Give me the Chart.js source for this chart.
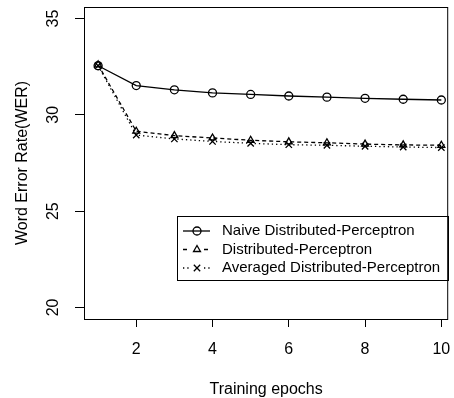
<!DOCTYPE html>
<html>
<head>
<meta charset="utf-8">
<script src="https://cdn.jsdelivr.net/npm/chart.js@4/dist/chart.umd.min.js"></script>
<style>
  body { margin: 0; background: #fff; }
  #wrap { width: 454px; height: 398px; }
</style>
</head>
<body>
<div id="wrap"><canvas id="werChart"></canvas></div>
<script>
const epochs = [1, 2, 3, 4, 5, 6, 7, 8, 9, 10];
const naiveWer = [32.55, 31.52, 31.3, 31.14, 31.06, 30.98, 30.92, 30.86, 30.81, 30.77];
const distWer = [32.6, 29.15, 28.92, 28.8, 28.68, 28.6, 28.55, 28.48, 28.44, 28.42];
const avgWer = [32.55, 28.95, 28.75, 28.62, 28.52, 28.45, 28.42, 28.37, 28.33, 28.3];
const xTicks = [2, 4, 6, 8, 10];
const yTicks = [20, 25, 30, 35];
const seriesNames = ['Naive Distributed-Perceptron', 'Distributed-Perceptron', 'Averaged Distributed-Perceptron'];

const FONT = '"Liberation Sans", Arial, Helvetica, sans-serif';

function toPoints(ys) {
    return epochs.map((x, i) => ({ x: x, y: ys[i] }));
}

// frame around plot, rotated y labels, legend inside the plot
const decorPlugin = {
    id: 'decor',
    afterDraw(chart) {
        const ctx = chart.ctx;
        const a = chart.chartArea;
        ctx.save();
        ctx.strokeStyle = '#000';
        ctx.lineWidth = 1;
        ctx.strokeRect(a.left + 0.5, a.top + 0.5, a.right - a.left - 1, a.bottom - a.top);

        // y tick labels, parallel to the axis
        const ys = chart.scales.y;
        ctx.fillStyle = '#000';
        ctx.font = '16px ' + FONT;
        ctx.textAlign = 'center';
        ctx.textBaseline = 'middle';
        ys.ticks.forEach(t => {
            const py = ys.getPixelForValue(t.value);
            ctx.save();
            ctx.translate(54, py);
            ctx.rotate(-Math.PI / 2);
            ctx.fillText(String(t.value), 0, 0);
            ctx.restore();
        });

        // legend
        const bx = 177.5, by = 216.5, bw = 271, bh = 64;
        ctx.strokeRect(bx, by, bw, bh);
        ctx.font = '15px ' + FONT;
        const rows = [231, 249.5, 268];
        chart.data.datasets.forEach((ds, i) => {
            const y = rows[i];
            ctx.save();
            ctx.strokeStyle = '#000';
            ctx.fillStyle = 'rgba(0,0,0,0)';
            ctx.lineWidth = 1.3;
            ctx.setLineDash(ds.borderDash || []);
            ctx.beginPath();
            if (i === 0) {
                ctx.moveTo(183, y); ctx.lineTo(210, y);
            } else {
                ctx.moveTo(183, y); ctx.lineTo(190, y);
                ctx.moveTo(204, y); ctx.lineTo(211, y);
            }
            ctx.stroke();
            ctx.setLineDash([]);
            Chart.helpers.drawPoint(ctx, {
                pointStyle: ds.pointStyle,
                radius: ds.pointRadius,
                borderWidth: ds.pointBorderWidth
            }, 197, y);
            ctx.restore();
            ctx.save();
            ctx.textAlign = 'left';
            ctx.fillText(ds.label, 222, y);
            ctx.restore();
        });
        ctx.restore();
    }
};

const common = {
    borderColor: '#000',
    backgroundColor: 'rgba(0,0,0,0)',
    pointBorderColor: '#000',
    pointBackgroundColor: 'rgba(0,0,0,0)',
    borderWidth: 1.3,
    pointBorderWidth: 1.3,
    pointRadius: 4,
    tension: 0
};

new Chart(document.getElementById('werChart'), {
    type: 'line',
    data: {
        datasets: [
            Object.assign({ label: seriesNames[0], data: toPoints(naiveWer), pointStyle: 'circle' }, common),
            Object.assign({ label: seriesNames[1], data: toPoints(distWer), pointStyle: 'triangle', borderDash: [4, 3] }, common),
            Object.assign({ label: seriesNames[2], data: toPoints(avgWer), pointStyle: 'crossRot', borderDash: [1.3, 3] }, common, { pointRadius: 4.5 })
        ]
    },
    options: {
        responsive: true,
        maintainAspectRatio: false,
        animation: false,
        layout: { padding: { top: 7, right: 5, left: 0, bottom: 0 } },
        plugins: {
            legend: { display: false },
            tooltip: { enabled: false }
        },
        scales: {
            x: {
                type: 'linear',
                min: 0.63,
                max: 10.18,
                afterBuildTicks: s => { s.ticks = xTicks.map(v => ({ value: v })); },
                afterFit: s => { s.height = 79; s.paddingLeft = 0; s.paddingRight = 0; },
                border: { display: false },
                grid: { drawOnChartArea: false, drawTicks: true, tickLength: 8, color: '#000', lineWidth: 1 },
                ticks: { color: '#000', font: { family: FONT, size: 16 }, padding: 13, maxRotation: 0 },
                title: {
                    display: true,
                    text: 'Training epochs',
                    color: '#000',
                    font: { family: FONT, size: 16 },
                    padding: { top: 0, bottom: -1 }
                }
            },
            y: {
                min: 19.4,
                max: 35.6,
                afterBuildTicks: s => { s.ticks = yTicks.map(v => ({ value: v })); },
                afterFit: s => { s.width = 84; s.paddingTop = 0; s.paddingBottom = 0; },
                border: { display: false },
                grid: { drawOnChartArea: false, drawTicks: true, tickLength: 9, color: '#000', lineWidth: 1 },
                ticks: { display: false },
                title: {
                    display: true,
                    text: 'Word Error Rate(WER)',
                    color: '#000',
                    font: { family: FONT, size: 16 },
                    padding: { top: 13, bottom: 0 }
                }
            }
        }
    },
    plugins: [decorPlugin]
});
</script>
</body>
</html>
